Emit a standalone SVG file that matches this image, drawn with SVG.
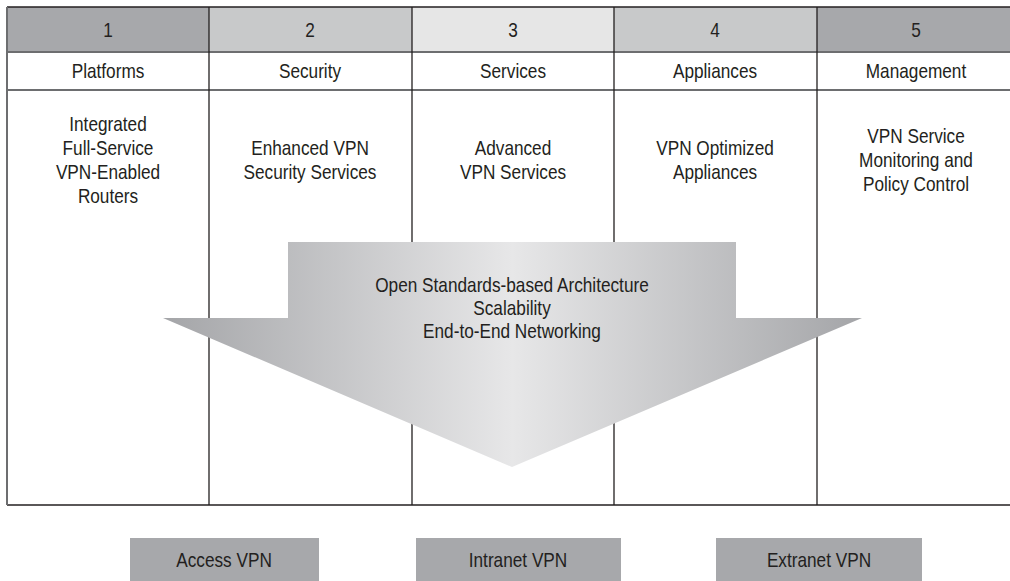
<svg xmlns="http://www.w3.org/2000/svg" width="1010" height="581" viewBox="0 0 1010 581">
<defs>
<linearGradient id="arrowGrad" x1="163" y1="0" x2="862" y2="0" gradientUnits="userSpaceOnUse">
<stop offset="0" stop-color="#a4a5a8"/>
<stop offset="0.5" stop-color="#e7e7e8"/>
<stop offset="1" stop-color="#a4a5a8"/>
</linearGradient>
</defs>
<style>
text{font-family:"Liberation Sans",Arial,sans-serif;font-size:21px;fill:#231f20;text-anchor:middle;}
.grid{stroke:#231f20;stroke-width:1.3;fill:none;}
.rowline{stroke:#6d6e70;stroke-width:2;fill:none;}
.box{fill:#a7a8ab;}
</style>
<rect width="1010" height="581" fill="#ffffff"/>
<g id="headers">
<rect x="7" y="7" width="202" height="45" fill="#a7a8ab"/>
<rect x="209" y="7" width="203" height="45" fill="#c8c9ca"/>
<rect x="412" y="7" width="202" height="45" fill="#e6e6e6"/>
<rect x="614" y="7" width="203" height="45" fill="#c8c9ca"/>
<rect x="817" y="7" width="193" height="45" fill="#a7a8ab"/>
</g>
<g id="grid">
<line class="grid" x1="7" y1="7" x2="1010" y2="7"/>
<line class="rowline" x1="7" y1="52" x2="1010" y2="52"/>
<line class="rowline" x1="7" y1="90" x2="1010" y2="90"/>
<line class="grid" x1="7" y1="505" x2="1010" y2="505"/>
<line class="rowline" x1="7" y1="7" x2="7" y2="505"/>
<line class="grid" x1="209" y1="7" x2="209" y2="505"/>
<line class="grid" x1="412" y1="7" x2="412" y2="505"/>
<line class="grid" x1="614" y1="7" x2="614" y2="505"/>
<line class="grid" x1="817" y1="7" x2="817" y2="505"/>
</g>
<g id="col1">
<text transform="translate(108,37) scale(0.82,1)">1</text>
<text transform="translate(108,78) scale(0.82,1)">Platforms</text>
<text transform="translate(108,131) scale(0.82,1)">Integrated</text>
<text transform="translate(108,155) scale(0.82,1)">Full-Service</text>
<text transform="translate(108,179) scale(0.82,1)">VPN-Enabled</text>
<text transform="translate(108,203) scale(0.82,1)">Routers</text>
</g>
<g id="col2">
<text transform="translate(310,37) scale(0.82,1)">2</text>
<text transform="translate(310,78) scale(0.82,1)">Security</text>
<text transform="translate(310,155) scale(0.82,1)">Enhanced VPN</text>
<text transform="translate(310,179) scale(0.82,1)">Security Services</text>
</g>
<g id="col3">
<text transform="translate(513,37) scale(0.82,1)">3</text>
<text transform="translate(513,78) scale(0.82,1)">Services</text>
<text transform="translate(513,155) scale(0.82,1)">Advanced</text>
<text transform="translate(513,179) scale(0.82,1)">VPN Services</text>
</g>
<g id="col4">
<text transform="translate(715,37) scale(0.82,1)">4</text>
<text transform="translate(715,78) scale(0.82,1)">Appliances</text>
<text transform="translate(715,155) scale(0.82,1)">VPN Optimized</text>
<text transform="translate(715,179) scale(0.82,1)">Appliances</text>
</g>
<g id="col5">
<text transform="translate(916,37) scale(0.82,1)">5</text>
<text transform="translate(916,78) scale(0.82,1)">Management</text>
<text transform="translate(916,143) scale(0.82,1)">VPN Service</text>
<text transform="translate(916,167) scale(0.82,1)">Monitoring and</text>
<text transform="translate(916,191) scale(0.82,1)">Policy Control</text>
</g>
<g id="arrow">
<polygon points="288,242 736,242 736,318 862,318 512,467 163,318 288,318" fill="url(#arrowGrad)"/>
<text transform="translate(512,292) scale(0.82,1)">Open Standards-based Architecture</text>
<text transform="translate(512,315) scale(0.82,1)">Scalability</text>
<text transform="translate(512,338) scale(0.82,1)">End-to-End Networking</text>
</g>
<g id="access">
<rect class="box" x="130" y="538" width="189" height="43"/>
<text transform="translate(224,567) scale(0.82,1)">Access VPN</text>
</g>
<g id="intranet">
<rect class="box" x="416" y="538" width="205" height="43"/>
<text transform="translate(518,567) scale(0.82,1)">Intranet VPN</text>
</g>
<g id="extranet">
<rect class="box" x="716" y="538" width="206" height="43"/>
<text transform="translate(819,567) scale(0.82,1)">Extranet VPN</text>
</g>
</svg>
